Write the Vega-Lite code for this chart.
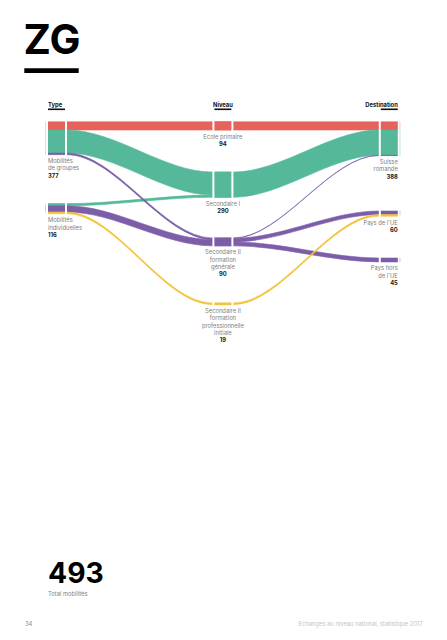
{
  "$schema": "https://vega.github.io/schema/vega-lite/v6.json",
  "width": 447,
  "height": 640,
  "autosize": {"type": "none"},
  "padding": 0,
  "background": "white",
  "config": {"view": {"stroke": null}, "text": {"font": "Inter"}},
  "datasets": {
    "links": [
      {"link": "Mobilités de groupes → Ecole primaire", "niveau": "Ecole primaire", "col": 0, "side": -1, "y": 0, "value": 94},
      {"link": "Mobilités de groupes → Ecole primaire", "niveau": "Ecole primaire", "col": 0, "side": 1, "y": 0, "value": 94},
      {"link": "Mobilités de groupes → Ecole primaire", "niveau": "Ecole primaire", "col": 1, "side": -1, "y": 0, "value": 94},
      {"link": "Mobilités de groupes → Ecole primaire", "niveau": "Ecole primaire", "col": 1, "side": 1, "y": 0, "value": 94},
      {"link": "Ecole primaire → Suisse romande", "niveau": "Ecole primaire", "col": 1, "side": -1, "y": 0, "value": 94},
      {"link": "Ecole primaire → Suisse romande", "niveau": "Ecole primaire", "col": 1, "side": 1, "y": 0, "value": 94},
      {"link": "Ecole primaire → Suisse romande", "niveau": "Ecole primaire", "col": 2, "side": -1, "y": 0, "value": 94},
      {"link": "Ecole primaire → Suisse romande", "niveau": "Ecole primaire", "col": 2, "side": 1, "y": 0, "value": 94},
      {"link": "Mobilités de groupes → Secondaire I", "niveau": "Secondaire I", "col": 0, "side": -1, "y": 94, "value": 265},
      {"link": "Mobilités de groupes → Secondaire I", "niveau": "Secondaire I", "col": 0, "side": 1, "y": 94, "value": 265},
      {"link": "Mobilités de groupes → Secondaire I", "niveau": "Secondaire I", "col": 1, "side": -1, "y": 577, "value": 265},
      {"link": "Mobilités de groupes → Secondaire I", "niveau": "Secondaire I", "col": 1, "side": 1, "y": 577, "value": 265},
      {"link": "Mobilités individuelles → Secondaire I", "niveau": "Secondaire I", "col": 0, "side": -1, "y": 940, "value": 25},
      {"link": "Mobilités individuelles → Secondaire I", "niveau": "Secondaire I", "col": 0, "side": 1, "y": 940, "value": 25},
      {"link": "Mobilités individuelles → Secondaire I", "niveau": "Secondaire I", "col": 1, "side": -1, "y": 842, "value": 25},
      {"link": "Mobilités individuelles → Secondaire I", "niveau": "Secondaire I", "col": 1, "side": 1, "y": 842, "value": 25},
      {"link": "Secondaire I → Suisse romande", "niveau": "Secondaire I", "col": 1, "side": -1, "y": 577, "value": 290},
      {"link": "Secondaire I → Suisse romande", "niveau": "Secondaire I", "col": 1, "side": 1, "y": 577, "value": 290},
      {"link": "Secondaire I → Suisse romande", "niveau": "Secondaire I", "col": 2, "side": -1, "y": 94, "value": 290},
      {"link": "Secondaire I → Suisse romande", "niveau": "Secondaire I", "col": 2, "side": 1, "y": 94, "value": 290},
      {"link": "Mobilités de groupes → Secondaire II générale", "niveau": "Secondaire II formation générale", "col": 0, "side": -1, "y": 359, "value": 18},
      {"link": "Mobilités de groupes → Secondaire II générale", "niveau": "Secondaire II formation générale", "col": 0, "side": 1, "y": 359, "value": 18},
      {"link": "Mobilités de groupes → Secondaire II générale", "niveau": "Secondaire II formation générale", "col": 1, "side": -1, "y": 1335, "value": 18},
      {"link": "Mobilités de groupes → Secondaire II générale", "niveau": "Secondaire II formation générale", "col": 1, "side": 1, "y": 1335, "value": 18},
      {"link": "Mobilités individuelles → Secondaire II générale", "niveau": "Secondaire II formation générale", "col": 0, "side": -1, "y": 965, "value": 72},
      {"link": "Mobilités individuelles → Secondaire II générale", "niveau": "Secondaire II formation générale", "col": 0, "side": 1, "y": 965, "value": 72},
      {"link": "Mobilités individuelles → Secondaire II générale", "niveau": "Secondaire II formation générale", "col": 1, "side": -1, "y": 1353, "value": 72},
      {"link": "Mobilités individuelles → Secondaire II générale", "niveau": "Secondaire II formation générale", "col": 1, "side": 1, "y": 1353, "value": 72},
      {"link": "Secondaire II générale → Suisse romande", "niveau": "Secondaire II formation générale", "col": 1, "side": -1, "y": 1335, "value": 4},
      {"link": "Secondaire II générale → Suisse romande", "niveau": "Secondaire II formation générale", "col": 1, "side": 1, "y": 1335, "value": 4},
      {"link": "Secondaire II générale → Suisse romande", "niveau": "Secondaire II formation générale", "col": 2, "side": -1, "y": 384, "value": 4},
      {"link": "Secondaire II générale → Suisse romande", "niveau": "Secondaire II formation générale", "col": 2, "side": 1, "y": 384, "value": 4},
      {"link": "Secondaire II générale → Pays de l'UE", "niveau": "Secondaire II formation générale", "col": 1, "side": -1, "y": 1339, "value": 41},
      {"link": "Secondaire II générale → Pays de l'UE", "niveau": "Secondaire II formation générale", "col": 1, "side": 1, "y": 1339, "value": 41},
      {"link": "Secondaire II générale → Pays de l'UE", "niveau": "Secondaire II formation générale", "col": 2, "side": -1, "y": 1025, "value": 41},
      {"link": "Secondaire II générale → Pays de l'UE", "niveau": "Secondaire II formation générale", "col": 2, "side": 1, "y": 1025, "value": 41},
      {"link": "Secondaire II générale → Pays hors de l'UE", "niveau": "Secondaire II formation générale", "col": 1, "side": -1, "y": 1380, "value": 45},
      {"link": "Secondaire II générale → Pays hors de l'UE", "niveau": "Secondaire II formation générale", "col": 1, "side": 1, "y": 1380, "value": 45},
      {"link": "Secondaire II générale → Pays hors de l'UE", "niveau": "Secondaire II formation générale", "col": 2, "side": -1, "y": 1565, "value": 45},
      {"link": "Secondaire II générale → Pays hors de l'UE", "niveau": "Secondaire II formation générale", "col": 2, "side": 1, "y": 1565, "value": 45},
      {"link": "Mobilités individuelles → Secondaire II professionnelle", "niveau": "Secondaire II formation professionnelle initiale", "col": 0, "side": -1, "y": 1037, "value": 19},
      {"link": "Mobilités individuelles → Secondaire II professionnelle", "niveau": "Secondaire II formation professionnelle initiale", "col": 0, "side": 1, "y": 1037, "value": 19},
      {"link": "Mobilités individuelles → Secondaire II professionnelle", "niveau": "Secondaire II formation professionnelle initiale", "col": 1, "side": -1, "y": 2082, "value": 19},
      {"link": "Mobilités individuelles → Secondaire II professionnelle", "niveau": "Secondaire II formation professionnelle initiale", "col": 1, "side": 1, "y": 2082, "value": 19},
      {"link": "Secondaire II professionnelle → Pays de l'UE", "niveau": "Secondaire II formation professionnelle initiale", "col": 1, "side": -1, "y": 2082, "value": 19},
      {"link": "Secondaire II professionnelle → Pays de l'UE", "niveau": "Secondaire II formation professionnelle initiale", "col": 1, "side": 1, "y": 2082, "value": 19},
      {"link": "Secondaire II professionnelle → Pays de l'UE", "niveau": "Secondaire II formation professionnelle initiale", "col": 2, "side": -1, "y": 1066, "value": 19},
      {"link": "Secondaire II professionnelle → Pays de l'UE", "niveau": "Secondaire II formation professionnelle initiale", "col": 2, "side": 1, "y": 1066, "value": 19}
    ],
    "nodes": [
      {"name": "Mobilités\nde groupes", "col": 0, "y": 0, "value": 377},
      {"name": "Mobilités\nindividuelles", "col": 0, "y": 940, "value": 116},
      {"name": "Ecole primaire", "col": 1, "y": 0, "value": 94},
      {"name": "Secondaire I", "col": 1, "y": 577, "value": 290},
      {"name": "Secondaire II\nformation\ngénérale", "col": 1, "y": 1335, "value": 90},
      {"name": "Secondaire II\nformation\nprofessionnelle\ninitiale", "col": 1, "y": 2082, "value": 19},
      {"name": "Suisse\nromande", "col": 2, "y": 0, "value": 388},
      {"name": "Pays de l'UE", "col": 2, "y": 1025, "value": 60},
      {"name": "Pays hors\nde l'UE", "col": 2, "y": 1565, "value": 45}
    ],
    "columns": [
      {"col": 0, "name": "Type"},
      {"col": 1, "name": "Niveau"},
      {"col": 2, "name": "Destination"}
    ],
    "page": [
      {"region": "ZG", "caption": "Total mobilités", "page": "34", "source": "Echanges au niveau national, statistique 2017"}
    ]
  },
  "layer": [
    {
      "data": {"name": "links"},
      "transform": [
        {"calculate": "datum.col + datum.side * 0.0631", "as": "x"},
        {"calculate": "datum.y + datum.value", "as": "y2"}
      ],
      "mark": {"type": "area", "interpolate": "monotone", "strokeWidth": 0.6},
      "encoding": {
        "x": {"field": "x", "type": "quantitative", "scale": {"domain": [-0.3395, 2.3468], "range": [0, 447], "nice": false, "zero": false}, "axis": null},
        "y": {"field": "y", "type": "quantitative", "scale": {"domain": [-1400, 5955], "range": [0, 640], "nice": false, "zero": false}, "axis": null},
        "y2": {"field": "y2"},
        "color": {
          "field": "niveau", "type": "nominal", "legend": null,
          "scale": {
            "domain": ["Ecole primaire", "Secondaire I", "Secondaire II formation générale", "Secondaire II formation professionnelle initiale"],
            "range": ["#E6625B", "#55B89A", "#7B5EA7", "#F2C43C"]
          }
        },
        "stroke": {
          "field": "niveau", "type": "nominal", "legend": null,
          "scale": {
            "domain": ["Ecole primaire", "Secondaire I", "Secondaire II formation générale", "Secondaire II formation professionnelle initiale"],
            "range": ["#E6625B", "#55B89A", "#7B5EA7", "#F2C43C"]
          }
        },
        "detail": {"field": "link"}
      }
    },
    {
      "data": {"name": "nodes"},
      "transform": [
        {"calculate": "datum.col - 0.0571", "as": "xs"},
        {"calculate": "datum.y - 10", "as": "yt"},
        {"calculate": "datum.y + datum.value + 10", "as": "yb"}
      ],
      "mark": {"type": "rule", "color": "white", "strokeWidth": 2},
      "encoding": {
        "x": {"field": "xs", "type": "quantitative"},
        "y": {"field": "yt", "type": "quantitative"},
        "y2": {"field": "yb"}
      }
    },
    {
      "data": {"name": "nodes"},
      "transform": [
        {"calculate": "datum.col + 0.0571", "as": "xs"},
        {"calculate": "datum.y - 10", "as": "yt"},
        {"calculate": "datum.y + datum.value + 10", "as": "yb"}
      ],
      "mark": {"type": "rule", "color": "white", "strokeWidth": 2},
      "encoding": {
        "x": {"field": "xs", "type": "quantitative"},
        "y": {"field": "yt", "type": "quantitative"},
        "y2": {"field": "yb"}
      }
    },
    {
      "data": {"name": "nodes"},
      "transform": [
        {"calculate": "datum.y + datum.value", "as": "yb"},
        {"calculate": "datum.col + (datum.col - 1) * 0.0511", "as": "xl"}
      ],
      "mark": {"type": "text", "baseline": "alphabetic", "dy": 8.5, "fontSize": 5.8, "color": "#808080", "lineHeight": 7.3, "lineBreak": "\n",
        "align": {"expr": "datum.col == 0 ? 'left' : (datum.col == 2 ? 'right' : 'center')"}},
      "encoding": {
        "x": {"field": "xl", "type": "quantitative"},
        "y": {"field": "yb", "type": "quantitative"},
        "text": {"field": "name"}
      }
    },
    {
      "data": {"name": "nodes"},
      "transform": [
        {"calculate": "datum.y + datum.value + length(split(datum.name, '\\n')) * 83.9", "as": "vy"},
        {"calculate": "datum.col + (datum.col - 1) * 0.0511", "as": "xl"}
      ],
      "mark": {"type": "text", "baseline": "alphabetic", "dy": 8.5, "fontSize": 5.8, "fontWeight": "bold", "color": "#1a1a1a",
        "align": {"expr": "datum.col == 0 ? 'left' : (datum.col == 2 ? 'right' : 'center')"}},
      "encoding": {
        "x": {"field": "xl", "type": "quantitative"},
        "y": {"field": "vy", "type": "quantitative"},
        "text": {"field": "value", "type": "quantitative"}
      }
    },
    {
      "data": {"name": "columns"},
      "transform": [
        {"calculate": "datum.col + (datum.col - 1) * 0.0511", "as": "xl"}
      ],
      "mark": {"type": "text", "baseline": "alphabetic", "fontSize": 5.8, "fontWeight": "bold", "color": "#111111",
        "align": {"expr": "datum.col == 0 ? 'left' : (datum.col == 2 ? 'right' : 'center')"}},
      "encoding": {
        "x": {"field": "xl", "type": "quantitative"},
        "y": {"datum": -170, "type": "quantitative"},
        "text": {"field": "name"}
      }
    },
    {
      "data": {"name": "columns"},
      "transform": [
        {"calculate": "datum.col - 0.0511", "as": "xa"},
        {"calculate": "datum.col + 0.0511", "as": "xb"}
      ],
      "mark": {"type": "rule", "color": "#111111", "strokeWidth": 1.6},
      "encoding": {
        "x": {"field": "xa", "type": "quantitative"},
        "x2": {"field": "xb"},
        "y": {"datum": -144, "type": "quantitative"}
      }
    },
    {
      "data": {"name": "page"},
      "mark": {"type": "text", "baseline": "alphabetic", "align": "left", "fontSize": 41.3, "fontWeight": "bold", "color": "#000000"},
      "encoding": {
        "x": {"datum": -0.1983, "type": "quantitative"},
        "y": {"datum": -779, "type": "quantitative"},
        "text": {"field": "region"}
      }
    },
    {
      "data": {"name": "page"},
      "mark": {"type": "rect", "color": "#000000"},
      "encoding": {
        "x": {"datum": -0.1935, "type": "quantitative"},
        "x2": {"datum": 0.1335},
        "y": {"datum": -615, "type": "quantitative"},
        "y2": {"datum": -561}
      }
    },
    {
      "data": {"name": "nodes"},
      "transform": [
        {"filter": "datum.col == 0"},
        {"aggregate": [{"op": "sum", "field": "value", "as": "total"}]}
      ],
      "mark": {"type": "text", "baseline": "alphabetic", "align": "left", "fontSize": 28.3, "fontWeight": "bold", "color": "#000000"},
      "encoding": {
        "x": {"datum": -0.0511, "type": "quantitative"},
        "y": {"datum": 5303, "type": "quantitative"},
        "text": {"field": "total", "type": "quantitative"}
      }
    },
    {
      "data": {"name": "page"},
      "mark": {"type": "text", "baseline": "alphabetic", "align": "left", "fontSize": 5.8, "color": "#808080"},
      "encoding": {
        "x": {"datum": -0.0511, "type": "quantitative"},
        "y": {"datum": 5446, "type": "quantitative"},
        "text": {"field": "caption"}
      }
    },
    {
      "data": {"name": "page"},
      "mark": {"type": "text", "baseline": "alphabetic", "align": "left", "fontSize": 5.8, "color": "#8c8c8c"},
      "encoding": {
        "x": {"datum": -0.1893, "type": "quantitative"},
        "y": {"datum": 5794, "type": "quantitative"},
        "text": {"field": "page"}
      }
    },
    {
      "data": {"name": "page"},
      "mark": {"type": "text", "baseline": "alphabetic", "align": "right", "fontSize": 5.8, "color": "#c4c4c4"},
      "encoding": {
        "x": {"datum": 2.2008, "type": "quantitative"},
        "y": {"datum": 5794, "type": "quantitative"},
        "text": {"field": "source"}
      }
    }
  ]
}
